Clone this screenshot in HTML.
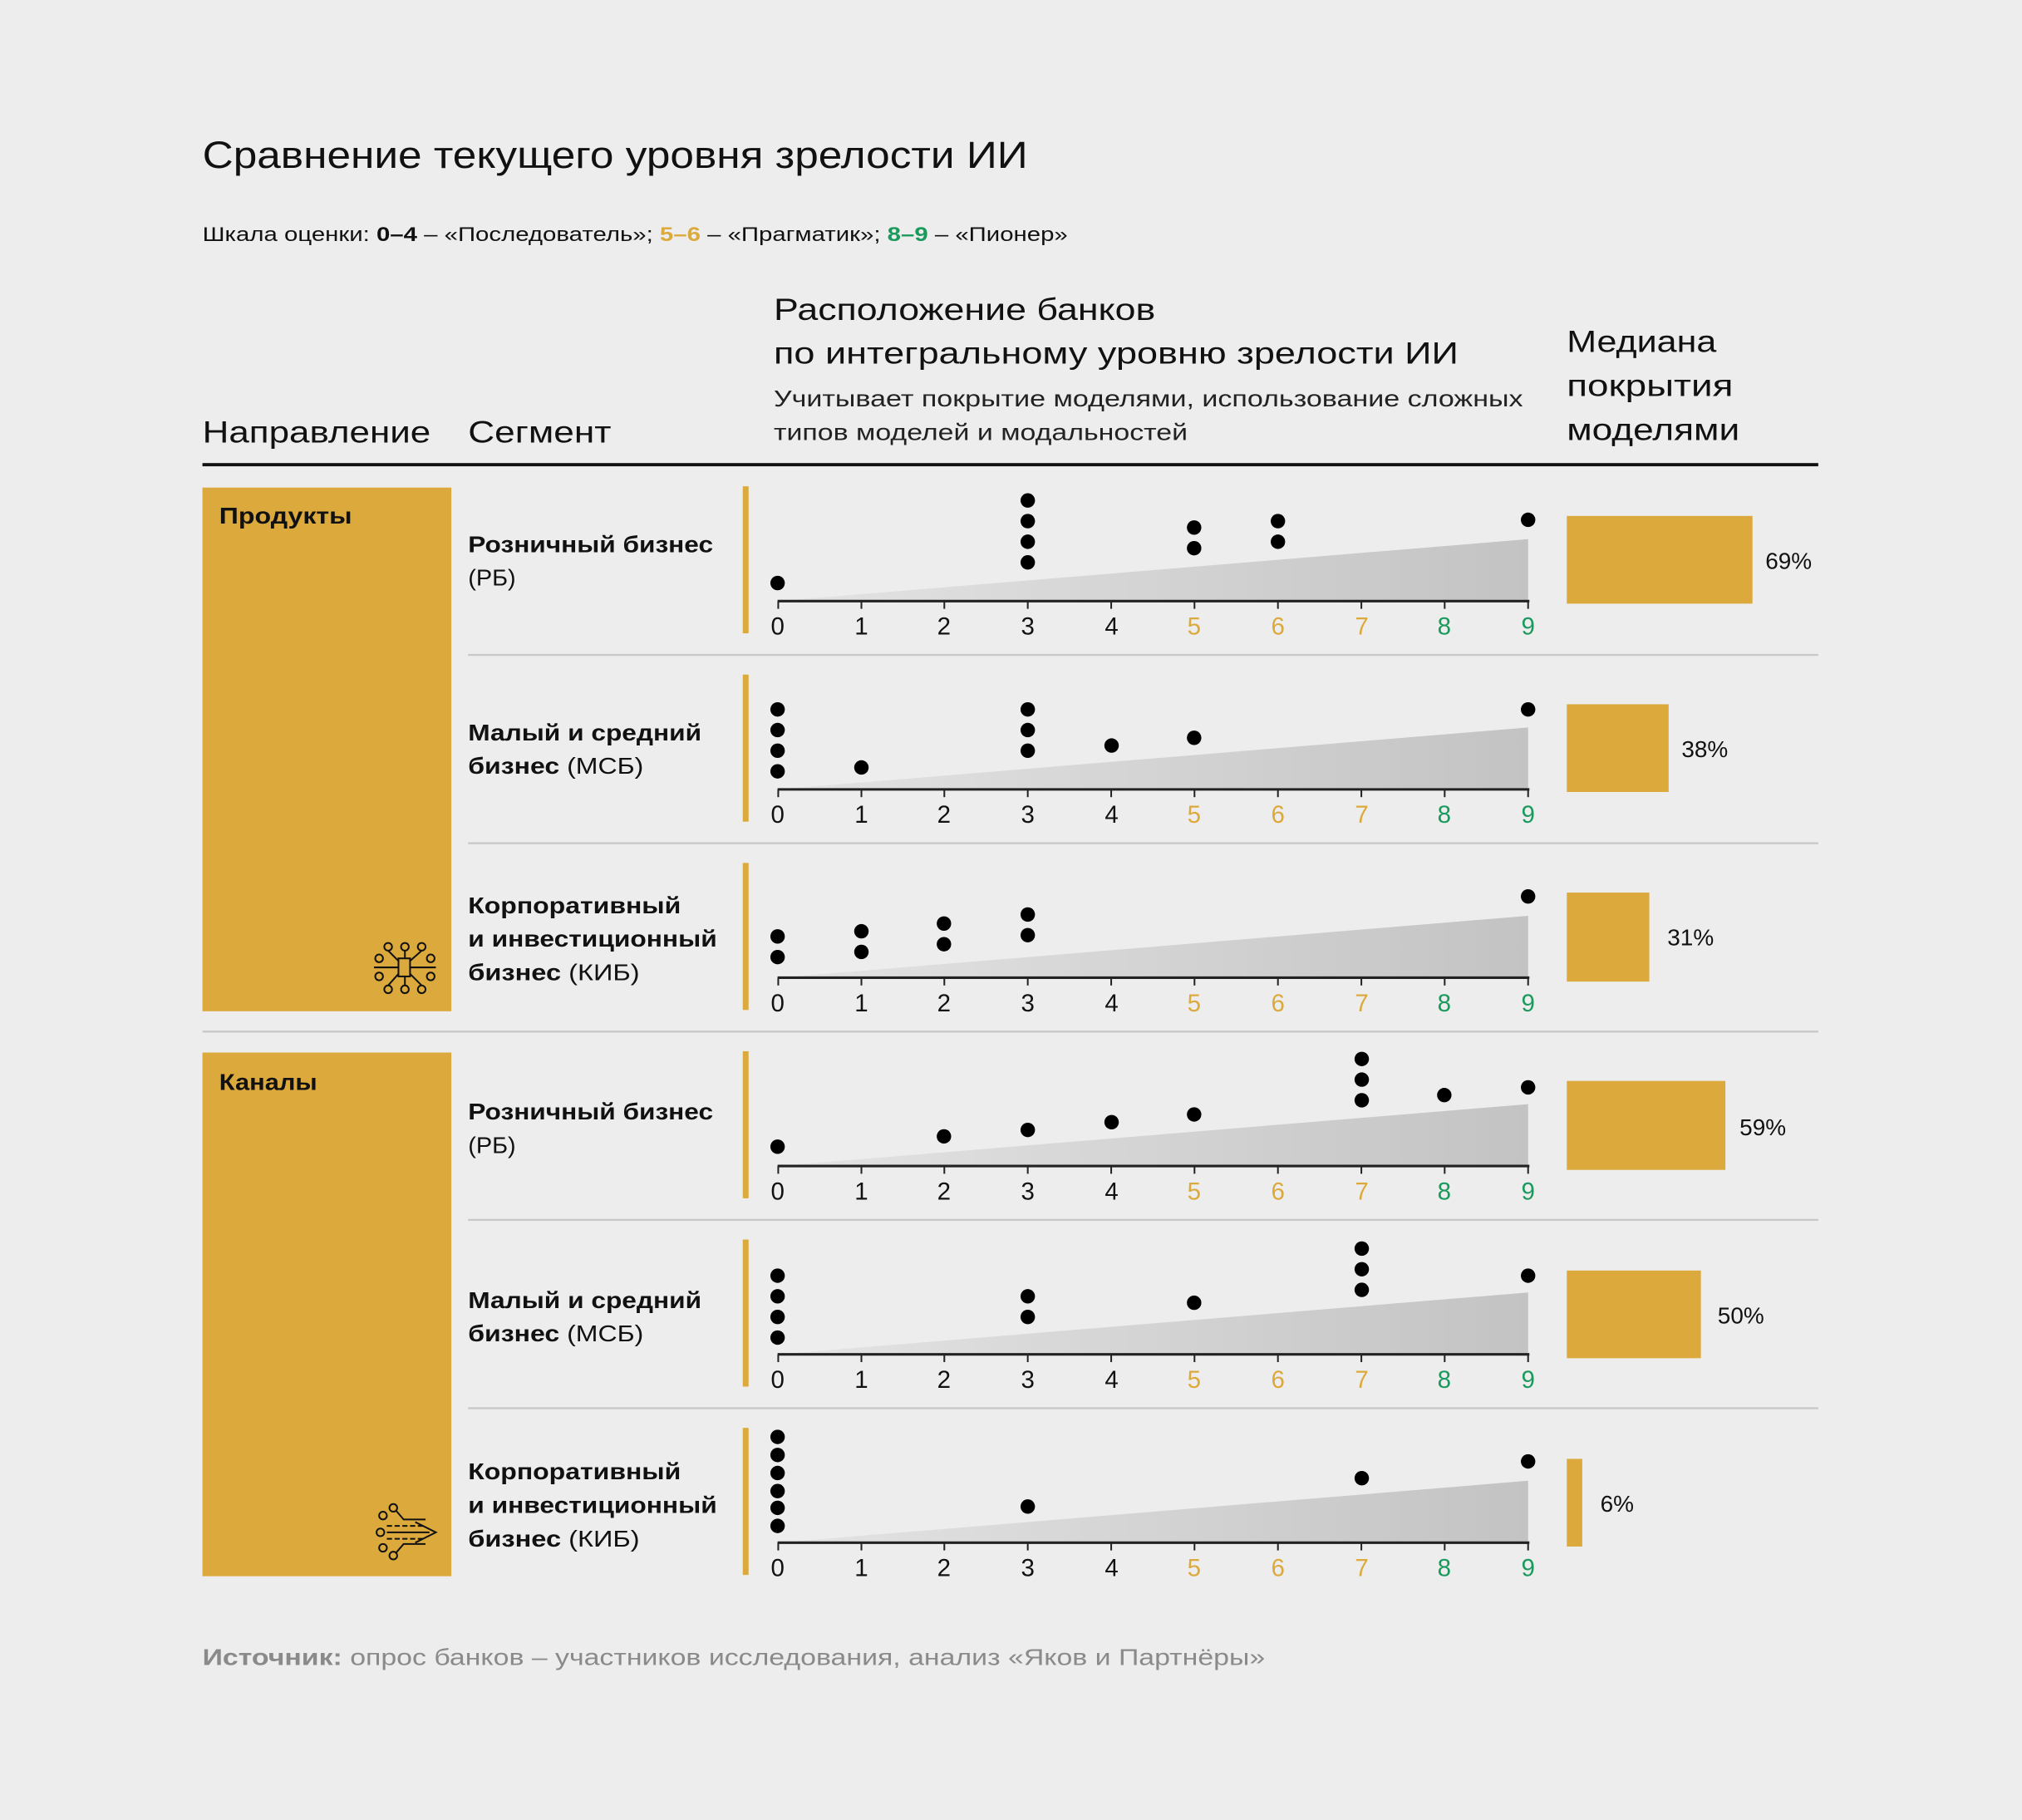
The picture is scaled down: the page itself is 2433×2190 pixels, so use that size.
<!DOCTYPE html>
<html><head><meta charset="utf-8">
<style>
html,body{margin:0;padding:0;background:#ededed;}
svg{display:block;}
text{font-family:"Liberation Sans","DejaVu Sans",sans-serif;}
</style></head>
<body>
<svg width="2433" height="2190" viewBox="0 0 1568 1411" preserveAspectRatio="none" xmlns="http://www.w3.org/2000/svg">
<defs>
<linearGradient id="g" x1="0" x2="1" y1="0" y2="0">
<stop offset="0" stop-color="#e4e4e4"/><stop offset="1" stop-color="#c3c3c3"/>
</linearGradient>
<g id="axis">
<polygon points="603,0 1185,-48 1185,0" fill="url(#g)"/>
<line x1="603" y1="0" x2="1186" y2="0" stroke="#222" stroke-width="2"/>
<g stroke="#222" stroke-width="1.3">
<line x1="603.5" y1="0" x2="603.5" y2="6"/><line x1="668" y1="0" x2="668" y2="6"/><line x1="732.3" y1="0" x2="732.3" y2="6"/><line x1="797" y1="0" x2="797" y2="6"/><line x1="861.7" y1="0" x2="861.7" y2="6"/><line x1="926.3" y1="0" x2="926.3" y2="6"/><line x1="991" y1="0" x2="991" y2="6"/><line x1="1055.7" y1="0" x2="1055.7" y2="6"/><line x1="1120.3" y1="0" x2="1120.3" y2="6"/><line x1="1185" y1="0" x2="1185" y2="6"/>
</g>
<g font-size="19" text-anchor="middle">
<text x="603" y="26" fill="#111">0</text><text x="668" y="26" fill="#111">1</text><text x="732" y="26" fill="#111">2</text><text x="797" y="26" fill="#111">3</text><text x="862" y="26" fill="#111">4</text>
<text x="926" y="26" fill="#dcaa3c">5</text><text x="991" y="26" fill="#dcaa3c">6</text><text x="1056" y="26" fill="#dcaa3c">7</text>
<text x="1120" y="26" fill="#1a9a5c">8</text><text x="1185" y="26" fill="#1a9a5c">9</text>
</g>
<rect x="576" y="-89" width="4.5" height="114" fill="#dcaa3c"/>
</g>
</defs>

<text x="157" y="130" font-size="29" fill="#111" textLength="640" lengthAdjust="spacingAndGlyphs">Сравнение текущего уровня зрелости ИИ</text>
<text x="157" y="187" font-size="15.5" fill="#111" textLength="671" lengthAdjust="spacingAndGlyphs">Шкала оценки: <tspan font-weight="bold">0–4</tspan> – «Последователь»; <tspan fill="#dcaa3c" font-weight="bold">5–6</tspan> – «Прагматик»; <tspan fill="#1a9a5c" font-weight="bold">8–9</tspan> – «Пионер»</text>

<g font-size="24" fill="#111">
<text x="600" y="248" textLength="296" lengthAdjust="spacingAndGlyphs">Расположение банков</text>
<text x="600" y="282" textLength="531" lengthAdjust="spacingAndGlyphs">по интегральному уровню зрелости ИИ</text>
<text x="1215" y="273" textLength="116" lengthAdjust="spacingAndGlyphs">Медиана</text>
<text x="1215" y="307" textLength="129" lengthAdjust="spacingAndGlyphs">покрытия</text>
<text x="1215" y="341" textLength="134" lengthAdjust="spacingAndGlyphs">моделями</text>
<text x="157" y="343" textLength="177" lengthAdjust="spacingAndGlyphs">Направление</text>
<text x="363" y="343" textLength="111" lengthAdjust="spacingAndGlyphs">Сегмент</text>
</g>
<g font-size="18" fill="#222">
<text x="600" y="315" textLength="581" lengthAdjust="spacingAndGlyphs">Учитывает покрытие моделями, использование сложных</text>
<text x="600" y="341" textLength="321" lengthAdjust="spacingAndGlyphs">типов моделей и модальностей</text>
</g>
<rect x="157" y="359" width="1253" height="2.5" fill="#111"/>

<rect x="157" y="378" width="193" height="406" fill="#dcaa3c"/>
<rect x="157" y="816" width="193" height="406" fill="#dcaa3c"/>
<text x="170" y="406" font-size="18" font-weight="bold" fill="#111" textLength="103" lengthAdjust="spacingAndGlyphs">Продукты</text>
<text x="170" y="845" font-size="18" font-weight="bold" fill="#111" textLength="76" lengthAdjust="spacingAndGlyphs">Каналы</text>

<g fill="none" stroke="#111" stroke-width="1.3">
<rect x="309" y="743" width="9" height="14"/>
<line x1="290" y1="750" x2="309" y2="750"/><line x1="318" y1="750" x2="338" y2="750"/>
<circle cx="301" cy="734" r="3"/><circle cx="314" cy="734" r="3"/><circle cx="327" cy="734" r="3"/>
<circle cx="301" cy="767" r="3"/><circle cx="314" cy="767" r="3"/><circle cx="327" cy="767" r="3"/>
<circle cx="294" cy="743" r="3"/><circle cx="294" cy="757" r="3"/><circle cx="334" cy="743" r="3"/><circle cx="334" cy="757" r="3"/>
<line x1="314" y1="737" x2="314" y2="743"/><line x1="314" y1="757" x2="314" y2="764"/>
<polyline points="301,737 309,745"/><polyline points="327,737 318,745"/><polyline points="301,764 309,755"/><polyline points="327,764 318,755"/>
<circle cx="297" cy="1175" r="3"/><circle cx="295" cy="1188" r="3"/><circle cx="297" cy="1200" r="3"/><circle cx="305" cy="1169" r="3"/><circle cx="305" cy="1206" r="3"/>
<polyline points="307,1171 313,1178 330,1178"/><line x1="300" y1="1188" x2="333" y2="1188"/><polyline points="307,1204 313,1197 330,1197"/>
<line x1="300" y1="1183" x2="330" y2="1183" stroke-dasharray="4,2"/><line x1="300" y1="1193" x2="330" y2="1193" stroke-dasharray="4,2"/>
<polyline points="322,1180 338,1188 322,1196"/>
</g>

<rect x="157" y="799" width="1253" height="1.5" fill="#c8c8c8"/>
<g fill="#c8c8c8">
<rect x="363" y="507" width="1047" height="1.5"/><rect x="363" y="653" width="1047" height="1.5"/>
<rect x="363" y="945" width="1047" height="1.5"/><rect x="363" y="1091" width="1047" height="1.5"/>
</g>

<use href="#axis" transform="translate(0,466)"/>
<use href="#axis" transform="translate(0,612)"/>
<use href="#axis" transform="translate(0,758)"/>
<use href="#axis" transform="translate(0,904)"/>
<use href="#axis" transform="translate(0,1050)"/>
<use href="#axis" transform="translate(0,1196)"/>

<g font-size="18" fill="#111">
<text x="363" y="428" font-weight="bold" textLength="190" lengthAdjust="spacingAndGlyphs">Розничный бизнес</text><text x="363" y="454" textLength="37" lengthAdjust="spacingAndGlyphs">(РБ)</text>
<text x="363" y="574" font-weight="bold" textLength="181" lengthAdjust="spacingAndGlyphs">Малый и средний</text><text x="363" y="600" textLength="136" lengthAdjust="spacingAndGlyphs"><tspan font-weight="bold">бизнес</tspan> (МСБ)</text>
<text x="363" y="708" font-weight="bold" textLength="165" lengthAdjust="spacingAndGlyphs">Корпоративный</text><text x="363" y="734" font-weight="bold" textLength="193" lengthAdjust="spacingAndGlyphs">и инвестиционный</text><text x="363" y="760" textLength="133" lengthAdjust="spacingAndGlyphs"><tspan font-weight="bold">бизнес</tspan> (КИБ)</text>
<text x="363" y="868" font-weight="bold" textLength="190" lengthAdjust="spacingAndGlyphs">Розничный бизнес</text><text x="363" y="894" textLength="37" lengthAdjust="spacingAndGlyphs">(РБ)</text>
<text x="363" y="1014" font-weight="bold" textLength="181" lengthAdjust="spacingAndGlyphs">Малый и средний</text><text x="363" y="1040" textLength="136" lengthAdjust="spacingAndGlyphs"><tspan font-weight="bold">бизнес</tspan> (МСБ)</text>
<text x="363" y="1147" font-weight="bold" textLength="165" lengthAdjust="spacingAndGlyphs">Корпоративный</text><text x="363" y="1173" font-weight="bold" textLength="193" lengthAdjust="spacingAndGlyphs">и инвестиционный</text><text x="363" y="1199" textLength="133" lengthAdjust="spacingAndGlyphs"><tspan font-weight="bold">бизнес</tspan> (КИБ)</text>
</g>

<g fill="#000">
<circle cx="603" cy="452" r="5.6"/>
<circle cx="797" cy="388" r="5.6"/><circle cx="797" cy="404" r="5.6"/><circle cx="797" cy="420" r="5.6"/><circle cx="797" cy="436" r="5.6"/>
<circle cx="926" cy="409" r="5.6"/><circle cx="926" cy="425" r="5.6"/>
<circle cx="991" cy="404" r="5.6"/><circle cx="991" cy="420" r="5.6"/>
<circle cx="1185" cy="403" r="5.6"/>

<circle cx="603" cy="550" r="5.6"/><circle cx="603" cy="566" r="5.6"/><circle cx="603" cy="582" r="5.6"/><circle cx="603" cy="598" r="5.6"/>
<circle cx="668" cy="595" r="5.6"/>
<circle cx="797" cy="550" r="5.6"/><circle cx="797" cy="566" r="5.6"/><circle cx="797" cy="582" r="5.6"/>
<circle cx="862" cy="578" r="5.6"/><circle cx="926" cy="572" r="5.6"/><circle cx="1185" cy="550" r="5.6"/>

<circle cx="603" cy="726" r="5.6"/><circle cx="603" cy="742" r="5.6"/>
<circle cx="668" cy="722" r="5.6"/><circle cx="668" cy="738" r="5.6"/>
<circle cx="732" cy="716" r="5.6"/><circle cx="732" cy="732" r="5.6"/>
<circle cx="797" cy="709" r="5.6"/><circle cx="797" cy="725" r="5.6"/>
<circle cx="1185" cy="695" r="5.6"/>

<circle cx="603" cy="889" r="5.6"/><circle cx="732" cy="881" r="5.6"/><circle cx="797" cy="876" r="5.6"/><circle cx="862" cy="870" r="5.6"/><circle cx="926" cy="864" r="5.6"/>
<circle cx="1056" cy="821" r="5.6"/><circle cx="1056" cy="837" r="5.6"/><circle cx="1056" cy="853" r="5.6"/>
<circle cx="1120" cy="849" r="5.6"/><circle cx="1185" cy="843" r="5.6"/>

<circle cx="603" cy="989" r="5.6"/><circle cx="603" cy="1005" r="5.6"/><circle cx="603" cy="1021" r="5.6"/><circle cx="603" cy="1037" r="5.6"/>
<circle cx="797" cy="1005" r="5.6"/><circle cx="797" cy="1021" r="5.6"/><circle cx="926" cy="1010" r="5.6"/>
<circle cx="1056" cy="968" r="5.6"/><circle cx="1056" cy="984" r="5.6"/><circle cx="1056" cy="1000" r="5.6"/>
<circle cx="1185" cy="989" r="5.6"/>

<circle cx="603" cy="1114" r="5.6"/><circle cx="603" cy="1128" r="5.6"/><circle cx="603" cy="1142" r="5.6"/><circle cx="603" cy="1156" r="5.6"/><circle cx="603" cy="1169" r="5.6"/><circle cx="603" cy="1183" r="5.6"/>
<circle cx="797" cy="1168" r="5.6"/><circle cx="1056" cy="1146" r="5.6"/><circle cx="1185" cy="1133" r="5.6"/>
</g>

<g fill="#dcaa3c">
<rect x="1215" y="400" width="144" height="68"/>
<rect x="1215" y="546" width="79" height="68"/>
<rect x="1215" y="692" width="64" height="69"/>
<rect x="1215" y="838" width="123" height="69"/>
<rect x="1215" y="985" width="104" height="68"/>
<rect x="1215" y="1131" width="12" height="68"/>
</g>
<g font-size="18" fill="#111">
<text x="1369" y="441">69%</text>
<text x="1304" y="587">38%</text>
<text x="1293" y="733">31%</text>
<text x="1349" y="880">59%</text>
<text x="1332" y="1026">50%</text>
<text x="1241" y="1172">6%</text>
</g>

<text x="157" y="1291" font-size="18" fill="#8a8a8a" textLength="824" lengthAdjust="spacingAndGlyphs"><tspan font-weight="bold">Источник:</tspan> опрос банков – участников исследования, анализ «Яков и Партнёры»</text>
</svg>
</body></html>
